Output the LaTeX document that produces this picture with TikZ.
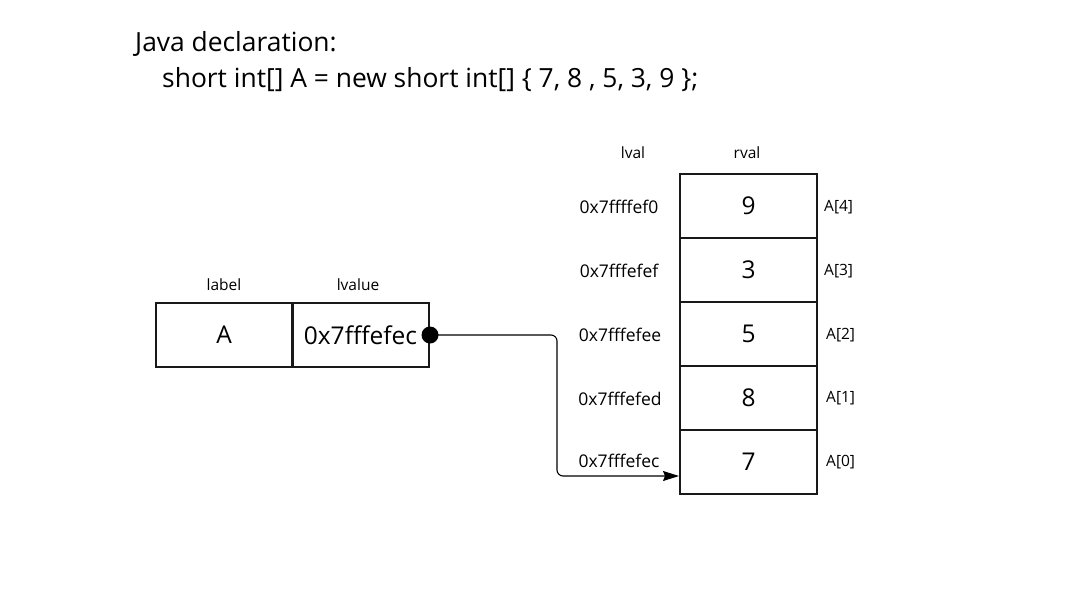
\documentclass[tikz,border=0pt]{standalone}
\usepackage{fontspec}
\setmainfont{Open Sans}
\usetikzlibrary{arrows.meta}
\begin{document}
\begin{tikzpicture}[x=1pt,y=-1pt,
  cell/.style={draw=black!90,line width=2pt,minimum width=137pt,minimum height=64pt,inner sep=0pt,font=\fontsize{24.5}{28}\selectfont},
  small/.style={font=\fontsize{15.5}{18}\selectfont,inner sep=0pt},
  addr/.style={font=\fontsize{17.5}{20}\selectfont,inner sep=0pt},
  title/.style={font=\fontsize{26.4}{30}\selectfont,inner sep=0pt,anchor=west}]
\useasboundingbox (0,0) rectangle (1081,589);
\node[title] (t1) at (135,44) {Java declaration:};
\node[title] (t2) at (162,80) {short int[] A = new short int[] \{ 7, 8 , 5, 3, 9 \};};
% left boxes
\node[cell] (lab) at (224,335) {A};
\node[cell] (lv) at (360.5,335) {0x7fffefec};
\node[small] (hlab) at (224,285) {label};
\node[small] (hlv) at (358,285) {lvalue};
% array
\node[cell] (r4) at (748.5,206) {9};
\node[cell] (r3) at (748.5,270) {3};
\node[cell] (r2) at (748.5,334) {5};
\node[cell] (r1) at (748.5,398) {8};
\node[cell] (r0) at (748.5,462) {7};
\node[small] (hl) at (633,153) {lval};
\node[small] (hr) at (747,153) {rval};
\node[addr] (a4) at (619,207) {0x7ffffef0};
\node[addr] (a3) at (619,271) {0x7fffefef};
\node[addr] (a2) at (620,335) {0x7fffefee};
\node[addr] (a1) at (620,399) {0x7fffefed};
\node[addr] (a0) at (619,461) {0x7fffefec};
\node[small,anchor=west] (i4) at (824,207) {A[4]};
\node[small,anchor=west] (i3) at (824,271) {A[3]};
\node[small,anchor=west] (i2) at (826,335) {A[2]};
\node[small,anchor=west] (i1) at (826,398) {A[1]};
\node[small,anchor=west] (i0) at (826,462) {A[0]};
% pointer
\coordinate (p) at (lv.east);
\coordinate (q) at (r0.west |- 0,476);
\fill (p) circle (8.5pt);
\draw[line width=1.1pt,rounded corners=6pt,-{Stealth[length=16pt,width=10pt,inset=2pt]}] (p) -| (557,476) -- (q);
\end{tikzpicture}
\end{document}
